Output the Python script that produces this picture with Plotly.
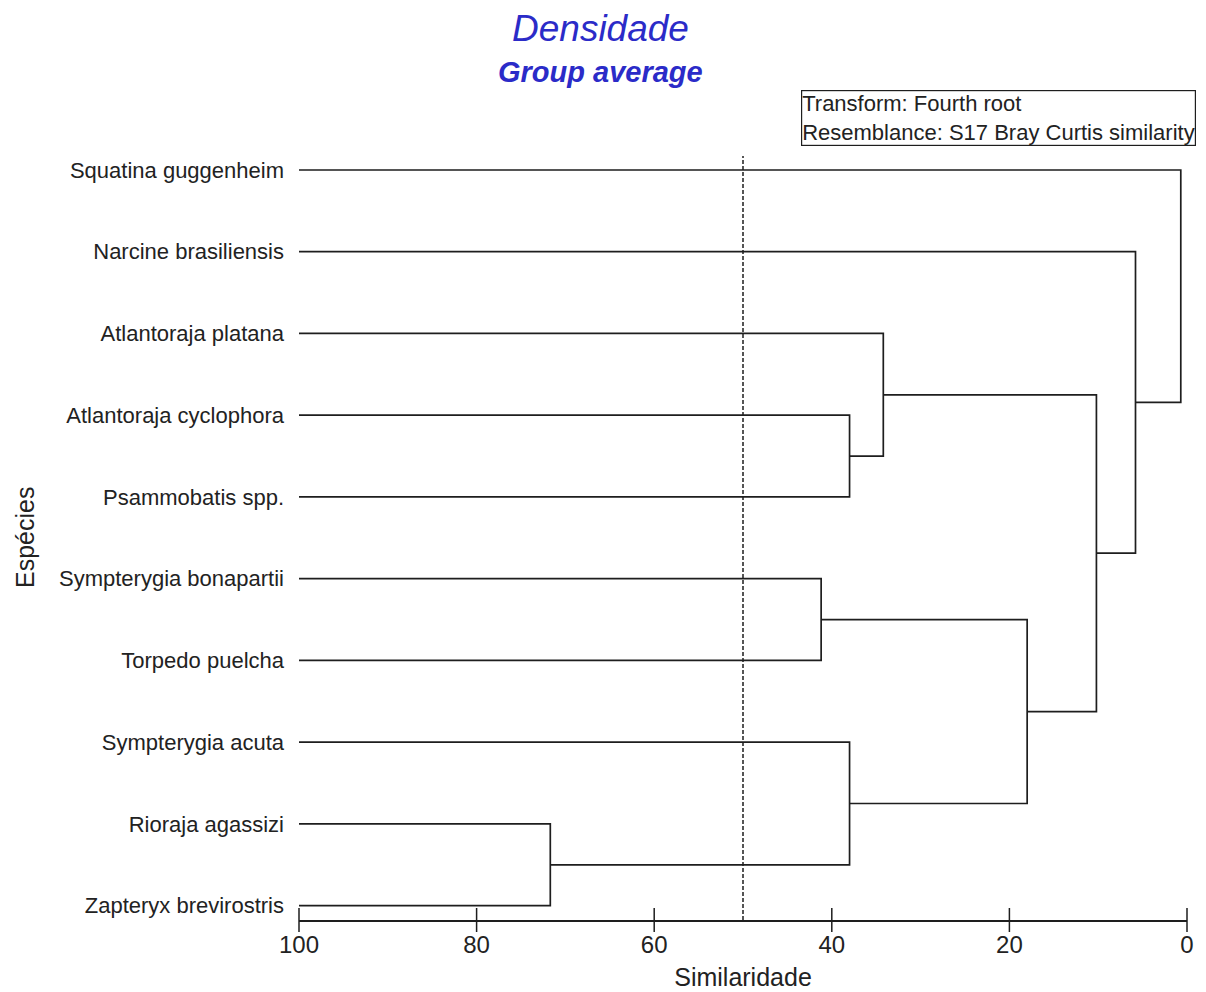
import plotly.graph_objects as go

# Species (leaf order, top to bottom)
species = [
    "Squatina guggenheim",
    "Narcine brasiliensis",
    "Atlantoraja platana",
    "Atlantoraja cyclophora",
    "Psammobatis spp.",
    "Sympterygia bonapartii",
    "Torpedo puelcha",
    "Sympterygia acuta",
    "Rioraja agassizi",
    "Zapteryx brevirostris",
]

# Group-average merges: (node a, node b, similarity); new nodes numbered from 10
merge_a = [8, 3, 2, 5, 7, 13, 12, 1, 0]
merge_b = [9, 4, 11, 6, 10, 14, 15, 16, 17]
merge_sim = [71.7, 38.0, 34.2, 41.2, 38.0, 18.0, 10.2, 5.8, 0.7]

cut_level = 50
x_ticks = [100, 80, 60, 40, 20, 0]
x_range = [100, 0]

LINE = "#1e1e1e"
TXT = "#222222"
BLUE = "#2b2bc8"
FONT = "Liberation Sans, Arial, sans-serif"

# node coordinates: leaves at similarity 100, internal nodes at their merge level
node_x = {i: 100.0 for i in range(len(species))}
node_y = {i: float(i) for i in range(len(species))}

seg_x, seg_y = [], []
for k, (a, b, s) in enumerate(zip(merge_a, merge_b, merge_sim)):
    nid = len(species) + k
    # horizontal arm from each child to merge level, then the vertical joiner
    seg_x += [node_x[a], s, s, node_x[b], None]
    seg_y += [node_y[a], node_y[a], node_y[b], node_y[b], None]
    node_x[nid] = s
    node_y[nid] = (node_y[a] + node_y[b]) / 2

fig = go.Figure()
fig.add_trace(go.Scatter(
    x=seg_x, y=seg_y, mode="lines",
    line=dict(color=LINE, width=1.7),
    hoverinfo="skip", showlegend=False,
))

# vertical dashed cut line
fig.add_shape(type="line", xref="x", yref="paper",
              x0=cut_level, x1=cut_level, y0=0, y1=1,
              line=dict(color=LINE, width=1.5, dash="4px,2px"))


def to_paper(v):
    # position of a similarity value as a fraction of the x-axis domain
    return (v - x_range[0]) / (x_range[1] - x_range[0])


# tick marks crossing the axis line (paper-referenced so they are not clipped)
for t in x_ticks:
    fig.add_shape(type="line", xref="paper", yref="paper",
                  ysizemode="pixel", yanchor=0,
                  x0=to_paper(t), x1=to_paper(t), y0=-12, y1=12,
                  line=dict(color=LINE, width=1.5))

n = len(species)
fig.update_layout(
    width=1206, height=992,
    margin=dict(l=299, r=19, t=156, b=72),
    paper_bgcolor="white", plot_bgcolor="white",
    xaxis=dict(
        range=x_range, showgrid=False, zeroline=False, automargin=False,
        showline=True, linecolor=LINE, linewidth=1.7,
        tickmode="array", tickvals=x_ticks, ticktext=[str(t) for t in x_ticks],
        ticks="", ticklabelstandoff=2,
        tickfont=dict(family=FONT, size=24, color=TXT),
        title=dict(text="Similaridade", standoff=12,
                   font=dict(family=FONT, size=25, color=TXT)),
    ),
    yaxis=dict(
        range=[n - 1 + 0.175, -0.171], showgrid=False, zeroline=False,
        automargin=False, showline=False, ticks="",
        tickmode="array", tickvals=list(range(n)), ticktext=species,
        ticklabelstandoff=14,
        tickfont=dict(family=FONT, size=22, color=TXT),
    ),
    annotations=[
        dict(text="Espécies", textangle=-90, xref="paper", yref="paper",
             x=0, y=0.5, xanchor="center", yanchor="middle", xshift=-274,
             showarrow=False, font=dict(family=FONT, size=25, color=TXT)),
        dict(text="<i>Densidade</i>", xref="paper", yref="paper",
             x=0.34, y=1, xanchor="center", yanchor="middle", yshift=128,
             showarrow=False, font=dict(family=FONT, size=37, color=BLUE)),
        dict(text="<b><i>Group average</i></b>", xref="paper", yref="paper",
             x=0.34, y=1, xanchor="center", yanchor="middle", yshift=84,
             showarrow=False, font=dict(family=FONT, size=29, color=BLUE)),
        dict(text="Transform: Fourth root<br>Resemblance: S17 Bray Curtis similarity",
             xref="paper", yref="paper", x=1, y=1, xanchor="right", yanchor="bottom",
             xshift=9, yshift=10, align="left", showarrow=False,
             bordercolor=LINE, borderwidth=1.2, borderpad=0, bgcolor="white",
             font=dict(family=FONT, size=22, color=TXT)),
    ],
)

fig.write_html("out.html")
